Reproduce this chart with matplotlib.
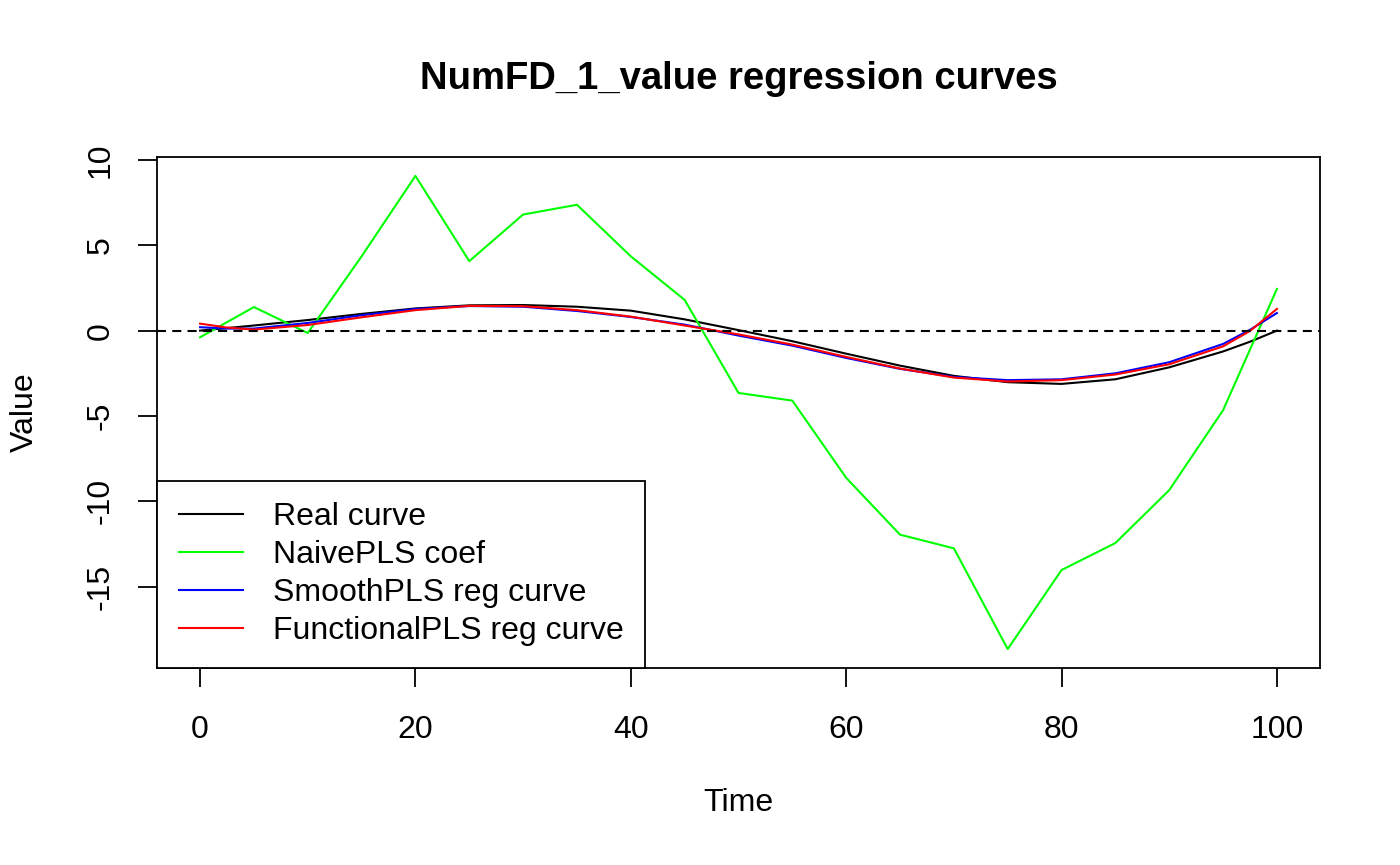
import matplotlib
matplotlib.use("Agg")
import matplotlib.pyplot as plt
import numpy as np

plt.rcParams['font.family'] = ['Liberation Sans', 'DejaVu Sans']
plt.rcParams['lines.scale_dashes'] = False
plt.rcParams['axes.unicode_minus'] = False

# NaivePLS coefficients (observed at 21 grid points)
naive_time = [0, 5, 10, 15, 20, 25, 30, 35, 40, 45, 50, 55, 60, 65, 70, 75, 80, 85, 90, 95, 100]
naive_coef = [-0.39, 1.38, -0.14, 4.35, 9.06, 4.07, 6.8, 7.37, 4.35, 1.8, -3.65, -4.1,
              -8.62, -11.95, -12.75, -18.65, -14.02, -12.44, -9.34, -4.66, 2.44]

# Smooth curves
curve_time = [0, 2.5, 5, 10, 15, 20, 25, 30, 35, 40, 45, 50, 55, 60, 65, 70, 75, 80, 85, 90, 95, 97.5, 100]
real_curve = [0.0, 0.15, 0.3, 0.62, 0.98, 1.3, 1.48, 1.5, 1.4, 1.17, 0.66, 0.03, -0.62, -1.35,
              -2.05, -2.65, -3.02, -3.12, -2.85, -2.15, -1.22, -0.65, 0.0]
smooth_pls = [0.2, 0.12, 0.12, 0.45, 0.9, 1.27, 1.44, 1.4, 1.15, 0.8, 0.35, -0.29, -0.88, -1.6,
              -2.24, -2.71, -2.9, -2.85, -2.5, -1.85, -0.78, 0.05, 1.03]
functional_pls = [0.41, 0.18, 0.06, 0.33, 0.78, 1.2, 1.45, 1.43, 1.2, 0.82, 0.3, -0.22, -0.82, -1.54,
                  -2.22, -2.75, -2.98, -2.9, -2.57, -1.97, -0.92, -0.02, 1.27]

labels = ["Real curve", "NaivePLS coef", "SmoothPLS reg curve", "FunctionalPLS reg curve"]
colors = ["black", "#00FF00", "blue", "red"]
x_ticks = [0, 20, 40, 60, 80, 100]
y_ticks = [-15, -10, -5, 0, 5, 10]
title = "NumFD_1_value regression curves"

W, H = 1400, 865
fig = plt.figure(figsize=(W / 100, H / 100), dpi=100)
L, R, T, B = 157, 1320, 157, 668
ax = fig.add_axes([L / W, 1 - B / H, (R - L) / W, (B - T) / H])

lw = 1.5
ax.plot(curve_time, real_curve, color=colors[0], lw=lw, label=labels[0])
ax.plot(naive_time, naive_coef, color=colors[1], lw=lw, label=labels[1])
ax.plot(curve_time, smooth_pls, color=colors[2], lw=lw, label=labels[2])
ax.plot(curve_time, functional_pls, color=colors[3], lw=lw, label=labels[3])
ax.axhline(0, color="black", lw=lw, dashes=(6.5, 4.5))

# R-style 4% axis padding
allx = np.concatenate([naive_time, curve_time])
ally = np.concatenate([naive_coef, real_curve, smooth_pls, functional_pls])
xr = allx.max() - allx.min()
yr = ally.max() - ally.min()
ax.set_xlim(allx.min() - 0.04 * xr, allx.max() + 0.04 * xr)
ax.set_ylim(ally.min() - 0.04 * yr, ally.max() + 0.04 * yr)

fs = 23
ax.set_xticks(x_ticks)
ax.set_yticks(y_ticks)
ax.tick_params(axis='both', direction='out', length=13.7, width=1.3, labelsize=fs, pad=20)
ax.tick_params(axis='y', labelrotation=90, pad=16)
for t in ax.get_yticklabels():
    t.set_va('center')
for s in ax.spines.values():
    s.set_linewidth(1.3)

ax.set_xlabel("Time", fontsize=fs)
ax.set_ylabel("Value", fontsize=fs)
ax.xaxis.set_label_coords(0.5, -(803 - B) / (B - T))
ax.xaxis.label.set_va('center')
ax.yaxis.set_label_coords(-(L - 25) / (R - L), 0.5)
ax.yaxis.label.set_va('center')

ax.text(0.5, 1 + (T - 79) / (B - T), title, transform=ax.transAxes, ha='center', va='center',
        fontsize=27.5, fontweight='bold')

leg = ax.legend(loc='lower left', bbox_to_anchor=(0, 0), borderaxespad=0, fontsize=fs,
                frameon=True, fancybox=False, edgecolor='black', framealpha=1,
                handlelength=2.0, handletextpad=0.94, labelspacing=0.25, borderpad=0.68)
leg.get_frame().set_linewidth(1.3)

fig.savefig("out.png", dpi=100)
